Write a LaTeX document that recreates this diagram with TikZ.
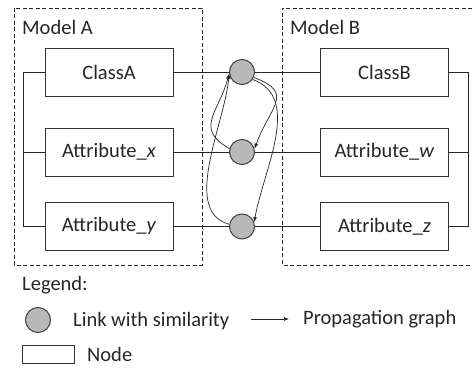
\documentclass[tikz,border=0pt]{standalone}
\usepackage{fontspec}
\setmainfont{Carlito}
\usetikzlibrary{positioning, arrows.meta}

\begin{document}
\begin{tikzpicture}[x=1pt, y=1pt, font=\fontsize{20.5}{24}\selectfont,
    box/.style={rectangle, draw=black!80, line width=0.9pt, minimum width=128pt, minimum height=48pt, inner sep=0pt, text=black!85},
    link/.style={circle, draw=black!75, fill=black!28, line width=1pt, minimum size=25pt, inner sep=0pt},
    lbl/.style={anchor=west, inner sep=0pt, text=black!85},
    conn/.style={draw=black!85, line width=0.8pt},
    prop/.style={-{Latex[length=5pt,width=4pt]}, draw=black!85, line width=0.7pt},
    model/.style={draw=black!85, line width=0.8pt, dash pattern=on 4pt off 2.5pt}]
    \useasboundingbox (0,0) rectangle (472,-374);

    % Models
    \draw[model] (14,-8) rectangle (202,-265);
    \draw[model] (472,-8) -- (282,-8) -- (282,-265) -- (472,-265);
    \node[lbl] (T_MA) at (22,-27) {Model A};
    \node[lbl] (T_MB) at (290,-27) {Model B};

    % Nodes
    \node[box] (N_CA) at (109,-72) {ClassA};
    \node[box] (N_AX) at (109,-152) {Attribute\_\textit{x}};
    \node[box] (N_AY) at (109,-226.5) {Attribute\_\textit{y}};
    \node[box] (N_CB) at (384.5,-72) {ClassB};
    \node[box] (N_AW) at (384.5,-152) {Attribute\_\textit{w}};
    \node[box] (N_AZ) at (384.5,-226.5) {Attribute\_\textit{z}};

    % Links with similarity
    \node[link] (L_1) at (242,-72) {};
    \node[link] (L_2) at (242,-152) {};
    \node[link] (L_3) at (242,-226.5) {};

    % Structure of each model
    \draw[conn] (N_CA.west) -- ++(-21,0) |- (N_AY.west); \draw[conn] (N_AX.west) -- ++(-21,0);
    \draw[conn] (N_CB.east) -- ++(19,0) |- (N_AZ.east); \draw[conn] (N_AW.east) -- ++(19,0);

    % Links
    \draw[conn] (N_CA) -- (L_1); \draw[conn] (L_1) -- (N_CB);
    \draw[conn] (N_AX) -- (L_2); \draw[conn] (L_2) -- (N_AW);
    \draw[conn] (N_AY) -- (L_3); \draw[conn] (L_3) -- (N_AZ);

    % Propagation graph
    \draw[prop] (L_2.165) to[out=150, in=255, looseness=1.4] (L_1.188);
    \draw[prop] (L_3.170) to[out=165, in=265, looseness=0.85] (L_1.188);
    \draw[prop] (L_1.335) to[out=-20, in=70, looseness=1.6] (L_2.15);
    \draw[prop] (L_1.325) to[out=-20, in=80, looseness=0.95] (L_3.20);

    % Legend
    \node[lbl] (T_LG) at (22,-285) {Legend:};
    \node[link] (K_L) at (38,-320) {};
    \node[lbl] (T_LS) at (73,-321) {Link with similarity};
    \coordinate (P_s) at (251,-319);
    \coordinate (P_e) at (289,-319);
    \draw[prop] (P_s) -- (P_e);
    \node[lbl] (T_PG) at (303,-319) {Propagation graph};
    \node[rectangle, draw=black!80, line width=0.9pt, minimum width=52pt, minimum height=18pt, inner sep=0pt] (K_N) at (48.5,-354) {};
    \node[lbl] (T_ND) at (87,-354) {Node};
\end{tikzpicture}
\end{document}
